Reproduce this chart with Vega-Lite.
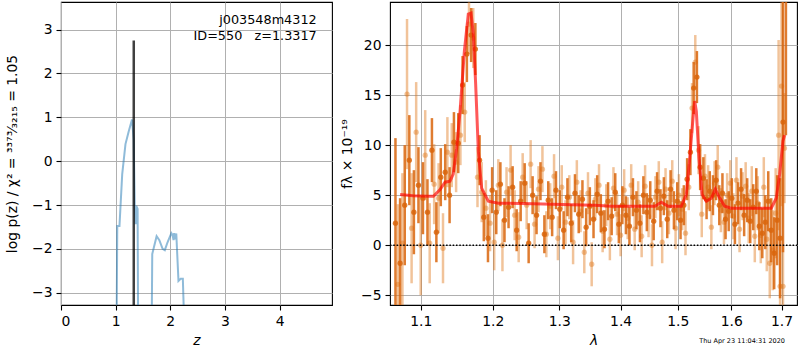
{
  "$schema": "https://vega.github.io/schema/vega-lite/v6.json",
  "background": "white",
  "padding": {"left": 4, "top": 1, "right": 0, "bottom": 0},
  "bounds": "flush",
  "spacing": 58,
  "config": {
    "font": "DejaVu Sans",
    "view": {"stroke": "black", "strokeWidth": 1.1},
    "axis": {
      "labelFont": "DejaVu Sans", "labelFontSize": 13.9, "labelColor": "black",
      "titleFont": "DejaVu Sans", "titleFontSize": 13.9, "titleFontWeight": "normal", "titleColor": "black",
      "tickColor": "black", "tickSize": 5, "tickWidth": 1.1, "domain": false,
      "gridColor": "#b0b0b0", "gridWidth": 1, "gridOpacity": 1,
      "labelPadding": 4, "titlePadding": 6
    }
  },
  "datasets": {
    "pz": [
      {"z": 0.99, "lp": -9}, {"z": 1.03, "lp": -1.48}, {"z": 1.07, "lp": -1.48}, {"z": 1.12, "lp": -0.30},
      {"z": 1.18, "lp": 0.39}, {"z": 1.24, "lp": 0.68}, {"z": 1.30, "lp": 0.95}, {"z": 1.33, "lp": 0.5},
      {"z": 1.35, "lp": -1.06}, {"z": 1.366, "lp": -1.44}, {"z": 1.378, "lp": -1.02}, {"z": 1.402, "lp": -1.09},
      {"z": 1.43, "lp": -9}, {"z": 1.63, "lp": -9}, {"z": 1.67, "lp": -2.12}, {"z": 1.75, "lp": -1.71},
      {"z": 1.80, "lp": -1.8}, {"z": 1.86, "lp": -2.0}, {"z": 1.90, "lp": -2.03}, {"z": 1.95, "lp": -1.85},
      {"z": 2.02, "lp": -1.64}, {"z": 2.04, "lp": -1.68}, {"z": 2.06, "lp": -1.80}, {"z": 2.07, "lp": -1.64},
      {"z": 2.09, "lp": -1.78}, {"z": 2.11, "lp": -1.65}, {"z": 2.15, "lp": -2.73}, {"z": 2.19, "lp": -2.68},
      {"z": 2.23, "lp": -2.68}, {"z": 2.31, "lp": -6}
    ],
    "zbest": [{"z": 1.3317, "lp": -3.6}, {"z": 1.3317, "lp": 2.75}],
    "ztext": [
      {"z": 4.68, "lp": 3.12, "t": "j003548m4312"},
      {"z": 4.68, "lp": 2.77, "t": "ID=550\u00a0\u00a0\u00a0z=1.3317"}
    ],
    "a": [
      {"w":1.067,"f":2.2,"e":8.5},{"w":1.073,"f":-1.8,"e":6.5},{"w":1.079,"f":4.0,"e":6.0},{"w":1.085,"f":8.5,"e":4.5},
      {"w":1.091,"f":3.3,"e":4.2},{"w":1.097,"f":6.0,"e":3.8},{"w":1.103,"f":4.7,"e":3.6},{"w":1.109,"f":3.3,"e":3.3},
      {"w":1.115,"f":9.5,"e":3.2},{"w":1.121,"f":1.3,"e":3.0},{"w":1.127,"f":6.8,"e":2.9},{"w":1.133,"f":7.3,"e":2.8},
      {"w":1.139,"f":5.0,"e":2.8},{"w":1.145,"f":10.3,"e":3.0},{"w":1.151,"f":10.2,"e":3.0},{"w":1.157,"f":16.0,"e":2.9},
      {"w":1.163,"f":19.1,"e":2.8},{"w":1.169,"f":21.0,"e":2.7},{"w":1.175,"f":19.6,"e":2.6},{"w":1.181,"f":8.5,"e":2.5},
      {"w":1.187,"f":2.8,"e":2.4},{"w":1.193,"f":0.7,"e":2.4},{"w":1.199,"f":5.5,"e":2.3},{"w":1.205,"f":3.3,"e":2.2},
      {"w":1.211,"f":6.1,"e":2.2},{"w":1.217,"f":2.5,"e":2.2},{"w":1.223,"f":3.8,"e":2.1},{"w":1.229,"f":5.8,"e":2.1},
      {"w":1.235,"f":1.5,"e":2.1},{"w":1.241,"f":4.4,"e":2.0},{"w":1.247,"f":6.2,"e":2.0},{"w":1.253,"f":0.2,"e":2.0},
      {"w":1.259,"f":5.0,"e":1.9},{"w":1.265,"f":3.0,"e":1.9},{"w":1.271,"f":6.4,"e":1.9},{"w":1.277,"f":1.1,"e":1.9},
      {"w":1.283,"f":4.5,"e":1.9},{"w":1.289,"f":2.8,"e":1.9},{"w":1.295,"f":5.5,"e":1.9},{"w":1.301,"f":3.6,"e":1.9},
      {"w":1.307,"f":1.5,"e":1.9},{"w":1.313,"f":4.8,"e":1.9},{"w":1.319,"f":2.2,"e":1.9},{"w":1.325,"f":5.2,"e":1.9},
      {"w":1.331,"f":3.1,"e":1.9},{"w":1.337,"f":4.6,"e":1.9},{"w":1.343,"f":1.8,"e":1.9},{"w":1.349,"f":3.9,"e":1.9},
      {"w":1.355,"f":2.6,"e":1.9},{"w":1.361,"f":5.1,"e":1.9},{"w":1.367,"f":3.2,"e":1.9},{"w":1.373,"f":1.6,"e":1.9},
      {"w":1.379,"f":4.4,"e":1.9},{"w":1.385,"f":2.9,"e":1.9},{"w":1.391,"f":5.3,"e":1.9},{"w":1.397,"f":2.1,"e":1.9},
      {"w":1.403,"f":4.0,"e":1.9},{"w":1.409,"f":3.0,"e":1.9},{"w":1.415,"f":1.9,"e":1.9},{"w":1.421,"f":4.8,"e":1.9},
      {"w":1.427,"f":3.5,"e":1.9},{"w":1.433,"f":2.2,"e":1.9},{"w":1.439,"f":5.0,"e":1.9},{"w":1.445,"f":3.3,"e":1.9},
      {"w":1.451,"f":4.5,"e":1.9},{"w":1.457,"f":2.4,"e":1.9},{"w":1.463,"f":5.4,"e":1.9},{"w":1.469,"f":3.7,"e":1.9},
      {"w":1.475,"f":4.9,"e":1.9},{"w":1.481,"f":2.6,"e":1.9},{"w":1.487,"f":5.6,"e":1.9},{"w":1.493,"f":3.5,"e":1.9},
      {"w":1.499,"f":4.4,"e":1.9},{"w":1.505,"f":2.5,"e":1.9},{"w":1.511,"f":4.0,"e":2.0},{"w":1.517,"f":6.6,"e":2.1},
      {"w":1.523,"f":9.3,"e":2.3},{"w":1.529,"f":15.7,"e":2.6},{"w":1.535,"f":16.8,"e":2.6},{"w":1.541,"f":7.8,"e":2.3},
      {"w":1.547,"f":6.7,"e":2.1},{"w":1.553,"f":4.6,"e":2.0},{"w":1.559,"f":5.4,"e":2.0},{"w":1.565,"f":5.0,"e":2.0},
      {"w":1.571,"f":6.5,"e":2.0},{"w":1.577,"f":4.0,"e":2.0},{"w":1.583,"f":5.2,"e":2.0},{"w":1.589,"f":2.6,"e":2.0},
      {"w":1.595,"f":3.4,"e":2.0},{"w":1.601,"f":4.7,"e":2.0},{"w":1.607,"f":2.1,"e":2.0},{"w":1.613,"f":4.2,"e":2.1},
      {"w":1.619,"f":5.6,"e":2.1},{"w":1.625,"f":3.0,"e":2.1},{"w":1.631,"f":4.5,"e":2.2},{"w":1.637,"f":2.4,"e":2.2},
      {"w":1.643,"f":3.8,"e":2.3},{"w":1.649,"f":5.4,"e":2.3},{"w":1.655,"f":1.9,"e":2.4},{"w":1.661,"f":1.2,"e":2.5},
      {"w":1.667,"f":2.3,"e":2.7},{"w":1.673,"f":4.4,"e":3.0},{"w":1.679,"f":1.5,"e":3.2},{"w":1.685,"f":-0.8,"e":3.6},
      {"w":1.691,"f":2.5,"e":4.5},{"w":1.697,"f":0.7,"e":6.0},{"w":1.703,"f":12.3,"e":13.0},{"w":1.709,"f":26.0,"e":15.0}
    ],
    "b": [
      {"w":1.070,"f":-3.9,"e":8.0},{"w":1.076,"f":0.2,"e":7.0},{"w":1.082,"f":15.1,"e":7.5},{"w":1.088,"f":1.7,"e":5.5},
      {"w":1.094,"f":11.3,"e":5.0},{"w":1.100,"f":0.0,"e":5.0},{"w":1.106,"f":9.0,"e":4.5},{"w":1.112,"f":0.2,"e":4.0},
      {"w":1.118,"f":6.1,"e":4.0},{"w":1.124,"f":4.7,"e":3.5},{"w":1.130,"f":-0.3,"e":3.5},{"w":1.136,"f":9.3,"e":3.5},
      {"w":1.142,"f":9.0,"e":3.2},{"w":1.148,"f":8.3,"e":3.0},{"w":1.154,"f":11.0,"e":3.0},{"w":1.160,"f":13.3,"e":3.0},
      {"w":1.166,"f":22.1,"e":3.0},{"w":1.172,"f":20.7,"e":3.0},{"w":1.178,"f":6.8,"e":3.0},{"w":1.184,"f":5.3,"e":3.0},
      {"w":1.190,"f":3.7,"e":2.8},{"w":1.196,"f":2.2,"e":2.8},{"w":1.202,"f":0.3,"e":2.8},{"w":1.208,"f":6.0,"e":2.6},
      {"w":1.214,"f":0.0,"e":2.6},{"w":1.220,"f":5.3,"e":2.5},{"w":1.226,"f":7.5,"e":2.5},{"w":1.232,"f":3.0,"e":2.5},
      {"w":1.238,"f":0.8,"e":2.5},{"w":1.244,"f":6.8,"e":2.4},{"w":1.250,"f":4.0,"e":2.4},{"w":1.256,"f":8.1,"e":2.4},
      {"w":1.262,"f":2.1,"e":2.4},{"w":1.268,"f":5.6,"e":2.3},{"w":1.274,"f":7.6,"e":2.3},{"w":1.280,"f":1.1,"e":2.3},
      {"w":1.286,"f":3.9,"e":2.3},{"w":1.292,"f":6.9,"e":2.2},{"w":1.298,"f":0.7,"e":2.2},{"w":1.304,"f":5.8,"e":2.2},
      {"w":1.310,"f":2.3,"e":2.2},{"w":1.316,"f":4.8,"e":2.2},{"w":1.322,"f":0.3,"e":2.2},{"w":1.328,"f":6.3,"e":2.2},
      {"w":1.334,"f":3.4,"e":2.1},{"w":1.340,"f":-0.7,"e":2.1},{"w":1.346,"f":5.2,"e":2.1},{"w":1.352,"f":-1.9,"e":2.2},
      {"w":1.358,"f":4.6,"e":2.1},{"w":1.364,"f":6.0,"e":2.1},{"w":1.370,"f":1.4,"e":2.1},{"w":1.376,"f":4.0,"e":2.1},
      {"w":1.382,"f":0.6,"e":2.1},{"w":1.388,"f":5.7,"e":2.1},{"w":1.394,"f":3.1,"e":2.1},{"w":1.400,"f":1.0,"e":2.1},
      {"w":1.406,"f":5.5,"e":2.1},{"w":1.412,"f":2.7,"e":2.1},{"w":1.418,"f":6.0,"e":2.1},{"w":1.424,"f":1.6,"e":2.1},
      {"w":1.430,"f":4.3,"e":2.1},{"w":1.436,"f":0.9,"e":2.1},{"w":1.442,"f":5.9,"e":2.1},{"w":1.448,"f":2.9,"e":2.1},
      {"w":1.454,"f":0.0,"e":2.1},{"w":1.460,"f":4.8,"e":2.1},{"w":1.466,"f":6.3,"e":2.1},{"w":1.472,"f":0.3,"e":2.1},
      {"w":1.478,"f":5.6,"e":2.1},{"w":1.484,"f":3.2,"e":2.1},{"w":1.490,"f":6.4,"e":2.1},{"w":1.496,"f":1.7,"e":2.1},
      {"w":1.502,"f":5.0,"e":2.1},{"w":1.508,"f":3.6,"e":2.1},{"w":1.514,"f":1.2,"e":2.2},{"w":1.520,"f":5.8,"e":2.3},
      {"w":1.526,"f":13.7,"e":2.5},{"w":1.532,"f":18.3,"e":2.7},{"w":1.538,"f":9.5,"e":2.4},{"w":1.544,"f":3.1,"e":2.3},
      {"w":1.550,"f":6.9,"e":2.2},{"w":1.556,"f":5.8,"e":2.2},{"w":1.562,"f":1.8,"e":2.2},{"w":1.568,"f":6.2,"e":2.2},
      {"w":1.574,"f":7.8,"e":2.2},{"w":1.580,"f":3.5,"e":2.2},{"w":1.586,"f":2.3,"e":2.2},{"w":1.592,"f":5.0,"e":2.2},
      {"w":1.598,"f":6.2,"e":2.3},{"w":1.604,"f":2.9,"e":2.3},{"w":1.610,"f":6.5,"e":2.3},{"w":1.616,"f":1.6,"e":2.3},
      {"w":1.622,"f":4.9,"e":2.4},{"w":1.628,"f":5.9,"e":2.4},{"w":1.634,"f":2.7,"e":2.5},{"w":1.640,"f":5.4,"e":2.5},
      {"w":1.646,"f":0.9,"e":2.6},{"w":1.652,"f":4.2,"e":2.7},{"w":1.658,"f":1.0,"e":2.8},{"w":1.664,"f":5.8,"e":3.0},
      {"w":1.670,"f":0.6,"e":3.2},{"w":1.676,"f":-1.8,"e":3.5},{"w":1.682,"f":-0.5,"e":4.0},{"w":1.688,"f":3.2,"e":4.5},
      {"w":1.694,"f":11.0,"e":9.5},{"w":1.697,"f":-4.1,"e":5.0},{"w":1.700,"f":15.9,"e":12.0},{"w":1.703,"f":-4.1,"e":4.0},
      {"w":1.706,"f":9.7,"e":5.5}
    ],
    "model": [
      {"w":1.073,"f":5.07},{"w":1.09,"f":4.95},{"w":1.11,"f":4.9},{"w":1.117,"f":4.9},{"w":1.126,"f":5.57},
      {"w":1.1328,"f":6.3},{"w":1.1396,"f":6.4},{"w":1.144,"f":7.1},{"w":1.1488,"f":9.7},{"w":1.1535,"f":13.4},
      {"w":1.1595,"f":19.4},{"w":1.165,"f":23.1},{"w":1.1689,"f":23.2},{"w":1.1721,"f":21.1},{"w":1.1754,"f":16.1},
      {"w":1.1792,"f":9.4},{"w":1.1839,"f":5.7},{"w":1.1935,"f":4.4},{"w":1.208,"f":4.2},{"w":1.26,"f":4.15},
      {"w":1.32,"f":4.05},{"w":1.357,"f":4.0},{"w":1.3846,"f":3.9},{"w":1.459,"f":3.9},{"w":1.4706,"f":4.3},
      {"w":1.4825,"f":3.9},{"w":1.5065,"f":3.9},{"w":1.5155,"f":5.07},{"w":1.5217,"f":8.7},{"w":1.5278,"f":12.7},
      {"w":1.5309,"f":14.4},{"w":1.5339,"f":13.4},{"w":1.5389,"f":8.7},{"w":1.5445,"f":5.1},{"w":1.5525,"f":4.4},
      {"w":1.562,"f":4.7},{"w":1.5695,"f":5.6},{"w":1.5759,"f":4.9},{"w":1.5873,"f":3.9},{"w":1.6,"f":3.7},
      {"w":1.679,"f":3.7},{"w":1.6891,"f":4.7},{"w":1.6961,"f":7.1},{"w":1.7029,"f":10.4},{"w":1.7063,"f":11.0}
    ],
    "zero": [{"w": 1.06, "f": 0}, {"w": 1.732, "f": 0}],
    "stamp": [{"w": 1.707, "f": -9.8, "t": "Thu Apr 23 11:04:31 2020"}]
  },
  "hconcat": [
    {
      "width": 271,
      "height": 303,
      "encoding": {
        "x": {"field": "z", "type": "quantitative",
              "scale": {"domain": [0, 4.96], "nice": false, "zero": false},
              "axis": {"values": [0, 1, 2, 3, 4], "title": "z", "titleFontStyle": "italic"}},
        "y": {"field": "lp", "type": "quantitative",
              "scale": {"domain": [-3.28, 3.63], "nice": false, "zero": false},
              "axis": {"values": [-3, -2, -1, 0, 1, 2, 3], "title": "log p(z) / χ² = ³³⁷³⁄₃₂₁₅ = 1.05", "titlePadding": 12}}
      },
      "layer": [
        {"data": {"name": "pz"}, "mark": {"type": "line", "color": "#1f77b4", "opacity": 0.5, "strokeWidth": 2, "clip": true}},
        {"data": {"name": "zbest"}, "mark": {"type": "line", "color": "black", "opacity": 0.75, "strokeWidth": 2.5, "clip": true}},
        {"data": {"name": "ztext"}, "mark": {"type": "text", "align": "right", "baseline": "alphabetic", "fontSize": 12.8, "font": "DejaVu Sans", "color": "black"},
         "encoding": {"text": {"field": "t"}}}
      ]
    },
    {
      "width": 407,
      "height": 303,
      "encoding": {
        "x": {"field": "w", "type": "quantitative",
              "scale": {"type": "log", "domain": [1.06, 1.732], "nice": false, "zero": false},
              "axis": {"values": [1.1, 1.2, 1.3, 1.4, 1.5, 1.6, 1.7], "format": ".1f", "title": "λ", "titleFontStyle": "italic"}},
        "y": {"field": "f", "type": "quantitative",
              "scale": {"domain": [-5.97, 24.3], "nice": false, "zero": false},
              "axis": {"values": [-5, 0, 5, 10, 15, 20], "title": "fλ × 10⁻¹⁹"}}
      },
      "layer": [
        {"data": {"name": "b"}, "mark": {"type": "errorbar", "color": "#e07a1f", "opacity": 0.45, "thickness": 2.5, "clip": true},
         "encoding": {"yError": {"field": "e"}}},
        {"data": {"name": "b"}, "mark": {"type": "circle", "color": "#e07a1f", "opacity": 0.45, "size": 28, "clip": true}},
        {"data": {"name": "a"}, "mark": {"type": "errorbar", "color": "#d9650c", "opacity": 0.85, "thickness": 2.5, "clip": true},
         "encoding": {"yError": {"field": "e"}}},
        {"data": {"name": "a"}, "mark": {"type": "circle", "color": "#d9650c", "opacity": 0.85, "size": 28, "clip": true}},
        {"data": {"name": "model"}, "mark": {"type": "line", "color": "#ff0000", "opacity": 0.65, "strokeWidth": 3, "clip": true}},
        {"data": {"name": "zero"}, "mark": {"type": "line", "color": "black", "strokeWidth": 1.6, "strokeDash": [1.5, 1.8]}},
        {"data": {"name": "stamp"}, "mark": {"type": "text", "align": "right", "baseline": "alphabetic", "fontSize": 6.5, "font": "DejaVu Sans", "color": "black"},
         "encoding": {"text": {"field": "t"}}}
      ]
    }
  ]
}
